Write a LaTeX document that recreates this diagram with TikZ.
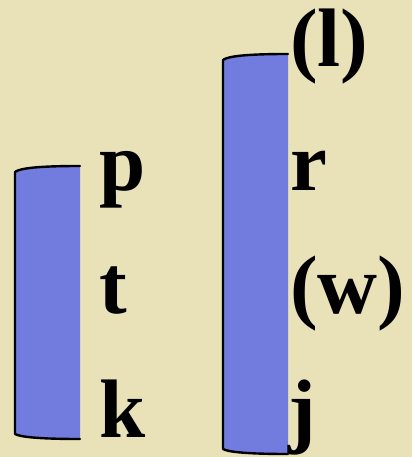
\documentclass[tikz,border=0pt]{standalone}
\usepackage{fontspec}
\setmainfont{Liberation Serif}
\definecolor{bg}{RGB}{233,226,185}
\definecolor{barblue}{RGB}{113,124,222}
\begin{document}
\begin{tikzpicture}[x=1pt,y=-1pt,
  lbl/.style={anchor=base west,inner sep=0pt,outer sep=0pt,font=\fontsize{83}{83}\selectfont\bfseries},
  barfill/.style={fill=barblue,draw=none},
  baredge/.style={draw=black,line width=2.4pt,line join=round,line cap=round}]
\fill[bg] (0,0) rectangle (412,457);
\useasboundingbox (0,0) rectangle (412,457);
% left bar
\path[barfill] (80,166) .. controls (40,166) and (20,168) .. (15,172) -- (15,434) .. controls (20,437) and (40,439) .. (80,439) -- cycle;
\draw[baredge] (80,166) .. controls (40,166) and (20,168) .. (15,172) -- (15,434) .. controls (20,437) and (40,439) .. (80,439);
% right bar
\path[barfill] (288,54) .. controls (248,54) and (228,56) .. (223,60) -- (223,449) .. controls (228,452) and (248,454) .. (288,454) -- cycle;
\draw[baredge] (288,54) .. controls (248,54) and (228,56) .. (223,60) -- (223,449) .. controls (228,452) and (248,454) .. (288,454);
% labels
\node[lbl] (p) at (99,190) {p};
\node[lbl] (t) at (99,313) {t};
\node[lbl] (k) at (99,437) {k};
\node[lbl] (l) at (290,67) {(l)};
\node[lbl] (r) at (290,190) {r};
\node[lbl] (w) at (290,313) {(w)};
\node[lbl] (j) at (288,437) {j};
\end{tikzpicture}
\end{document}
